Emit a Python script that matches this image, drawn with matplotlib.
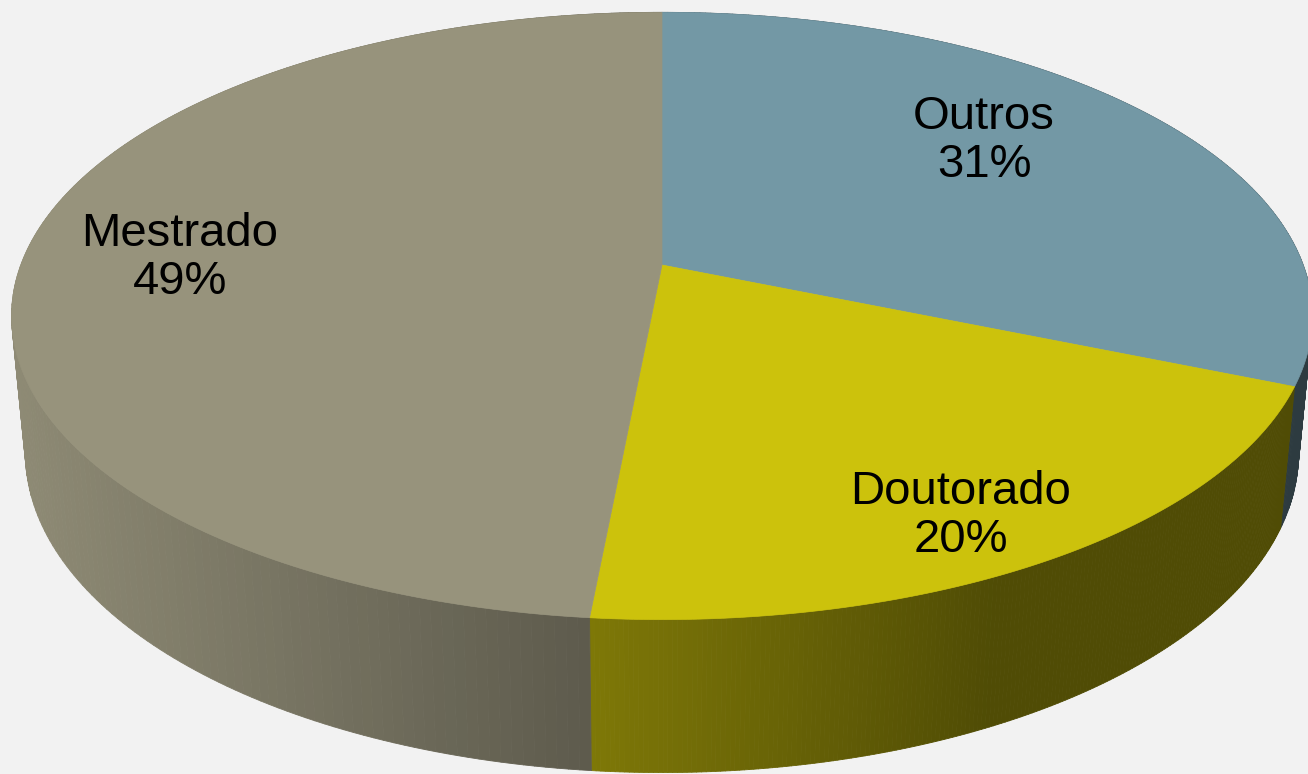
import numpy as np
import matplotlib.pyplot as plt
from matplotlib.collections import PolyCollection
from matplotlib.patches import Polygon
from matplotlib.colors import to_rgb

# data
categories = ['Outros', 'Doutorado', 'Mestrado']
values = [31.3, 20.2, 48.5]
colors = ['#7398A5', '#CCC20C', '#97937C']

# canvas in pixels
W, H = 1308, 774
cx, cy = 662, 265          # where the pie centre lands on screen
focal = 3392
dist = 5.29
elev = np.radians(27.4)
thick = 0.2424             # pie height (radius = 1)

label_xy = [(984, 141), (961, 516), (180, 258)]


def project(X, Y, Z):
    """Perspective projection of a point on the (unit) pie to pixels."""
    d = dist + Y * np.cos(elev) - Z * np.sin(elev)
    up = Y * np.sin(elev) + Z * np.cos(elev)
    return cx + focal * X / d, cy - focal * up / d


def shade(x):
    # the side gets darker from left to right
    m = 0.93 - (x - 30) * 0.000557
    return np.clip(m, 0.39, 0.95)


fig = plt.figure(figsize=(W / 100, H / 100), dpi=100, facecolor='#F2F2F2')
ax = fig.add_axes([0, 0, 1, 1])
ax.set_xlim(0, W)
ax.set_ylim(H, 0)
ax.axis('off')

total = float(sum(values))
bounds = np.concatenate([[0], np.cumsum(values)]) / total * 2 * np.pi

# sides first
for i, col in enumerate(colors):
    t = np.linspace(bounds[i], bounds[i + 1], 200)
    xt, yt = project(np.sin(t), np.cos(t), 0)
    xb, yb = project(np.sin(t), np.cos(t), -thick)
    quads, fc = [], []
    base = np.array(to_rgb(col))
    for j in range(len(t) - 1):
        quads.append([(xt[j], yt[j]), (xt[j + 1], yt[j + 1]),
                      (xb[j + 1], yb[j + 1]), (xb[j], yb[j])])
        fc.append(tuple(base * shade((xt[j] + xt[j + 1]) / 2)))
    ax.add_collection(PolyCollection(quads, facecolors=fc, edgecolors=fc,
                                     linewidths=0.6, zorder=1))

# top faces
for i, col in enumerate(colors):
    t = np.linspace(bounds[i], bounds[i + 1], 300)
    xt, yt = project(np.sin(t), np.cos(t), 0)
    px, py = project(0, 0, 0)
    pts = [(px, py)] + list(zip(xt, yt))
    ax.add_patch(Polygon(pts, closed=True, facecolor=col, edgecolor=col,
                         linewidth=0.5, zorder=2))

# labels
for name, v, (lx, ly) in zip(categories, values, label_xy):
    pct = int(v / total * 100 + 0.5 + 1e-9)
    ax.text(lx, ly, f'{name}\n{pct}%', ha='center', va='center',
            fontsize=34, family=['Liberation Sans', 'DejaVu Sans'],
            color='black', linespacing=1.1, zorder=3)

fig.savefig('out.png', dpi=100, facecolor=fig.get_facecolor())
